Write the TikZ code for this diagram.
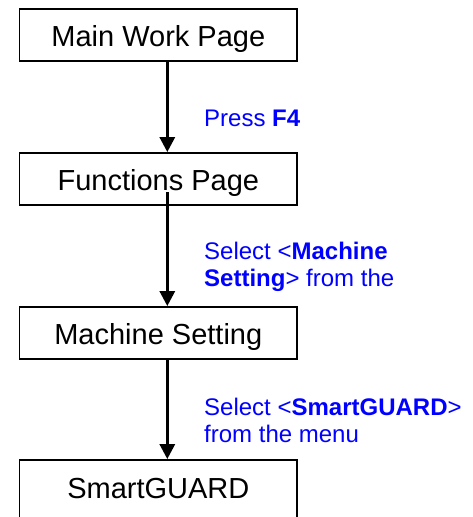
\documentclass[tikz,border=0pt]{standalone}
\usepackage{fontspec}
\setmainfont{Liberation Sans}
\usetikzlibrary{arrows.meta}
\definecolor{lblblue}{RGB}{0,0,255}
\begin{document}
\begin{tikzpicture}[x=1pt,y=-1pt,
  box/.style={draw=black, line width=1.8pt, minimum width=277.5pt, minimum height=52pt,
    inner sep=0pt, text height=22pt, text depth=0pt, font=\fontsize{29}{33}\selectfont},
  lbl/.style={anchor=base west, inner sep=0pt, text=lblblue, font=\fontsize{24}{27}\selectfont},
  arr/.style={line width=3pt, -{Triangle[width=15pt,length=15pt]}}]
\useasboundingbox (0,0) rectangle (473,517);
\node[box] (b1) at (158.3,35) {Main Work Page};
\node[box] (b2) at (158.3,179) {Functions Page};
\node[box] (b3) at (158.3,333) {Machine Setting};
\node[box, minimum height=60pt] (b4) at (158.3,490) {\raisebox{3pt}{SmartGUARD}};
\coordinate (ax) at (167.3,0);
\coordinate (s2) at (167.3,192);
\draw[arr] (b1.south -| ax) -- (b2.north -| ax);
\draw[arr] (s2) -- (b3.north -| ax);
\draw[arr] (b3.south -| ax) -- (b4.north -| ax);
\node[lbl] (l1) at (204,126) {Press \textbf{F4}};
\node[lbl] (l2a) at (204,259) {Select <\textbf{Machine}};
\node[lbl] (l2b) at (204,286.5) {\textbf{Setting}> from the};
\node[lbl] (l3a) at (204,415) {Select <\textbf{SmartGUARD}>};
\node[lbl] (l3b) at (204,442) {from the menu};
\end{tikzpicture}
\end{document}
